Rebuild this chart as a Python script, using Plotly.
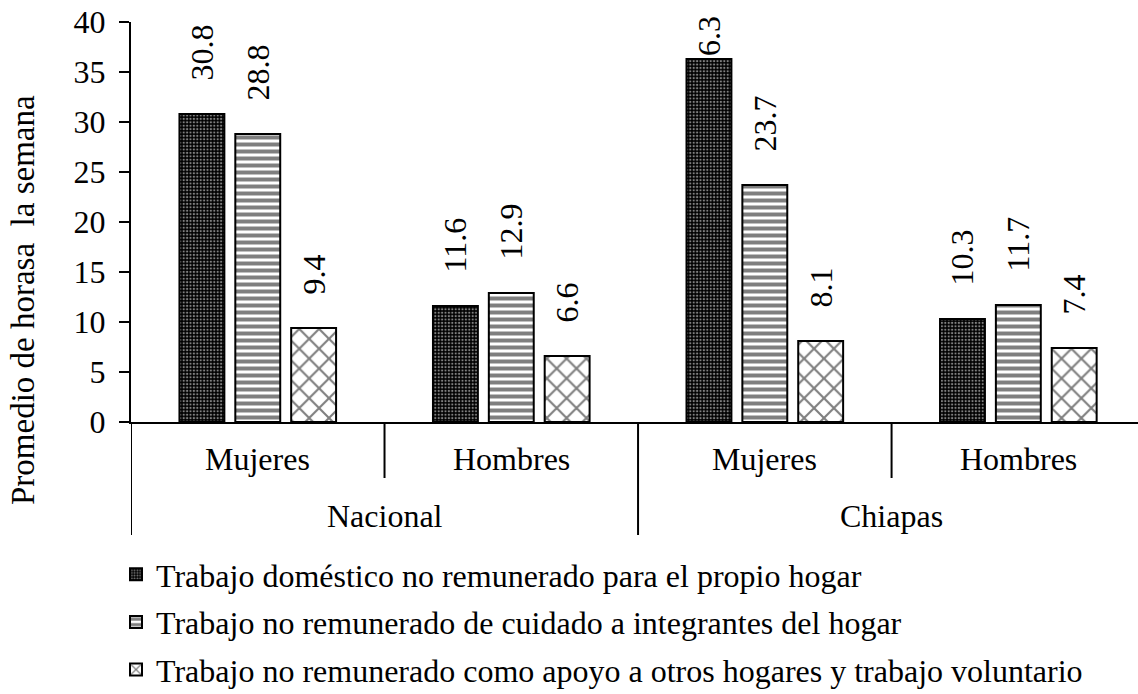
import plotly.graph_objects as go

# ---- data ----
regions = ["Nacional", "Nacional", "Chiapas", "Chiapas"]
sexes = ["Mujeres", "Hombres", "Mujeres", "Hombres"]

series_names = [
    "Trabajo doméstico no remunerado para el propio hogar",
    "Trabajo no remunerado de cuidado a integrantes del hogar",
    "Trabajo no remunerado como apoyo a otros hogares y trabajo voluntario",
]
domestico = [30.8, 11.6, 36.3, 10.3]
cuidado = [28.8, 12.9, 23.7, 11.7]
apoyo = [9.4, 6.6, 8.1, 7.4]

# labels as printed on the chart (the 36.3 label is partly hidden in the original)
domestico_labels = ["30.8", "11.6", "6.3", "10.3"]
cuidado_labels = ["28.8", "12.9", "23.7", "11.7"]
apoyo_labels = ["9.4", "6.6", "8.1", "7.4"]

y_ticks = [0, 5, 10, 15, 20, 25, 30, 35, 40]
y_title = "Promedio de horasa\u00a0 la semana"

FONT = "Liberation Serif"
FS = 32

W, H = 1138, 694
ML, MR, MT, MB = 131, 0, 22, 272
PW, PH = W - ML - MR, H - MT - MB


def py(pix):
    """pixel row -> paper y"""
    return (H - MB - pix) / PH


def px(pix):
    """pixel column -> paper x"""
    return (pix - ML) / PW


patterns = [
    dict(shape=".", fgcolor="white", bgcolor="black", size=3.4, solidity=0.35, fillmode="overlay"),
    dict(shape="-", fgcolor="black", bgcolor="white", size=7, solidity=0.57, fillmode="overlay"),
    dict(shape="x", fgcolor="black", bgcolor="white", size=14, solidity=0.28, fillmode="overlay"),
]

LABEL_PAD = "\u00a0" * 3 + "\u2009"


def pad_labels(values, labels):
    out = []
    for v, lab in zip(values, labels):
        if lab == f"{v:.1f}":
            out.append(LABEL_PAD + lab)
        else:
            out.append(lab)
    return out


fig = go.Figure()
for name, vals, labs, pat in zip(series_names,
                                  [domestico, cuidado, apoyo],
                                  [domestico_labels, cuidado_labels, apoyo_labels],
                                  patterns):
    fig.add_trace(go.Bar(
        name=name,
        legendgroup=name,
        x=[regions, sexes],
        y=vals,
        text=pad_labels(vals, labs),
        textposition="outside",
        textangle=-90,
        constraintext="none",
        cliponaxis=False,
        textfont=dict(family=FONT, size=FS, color="black"),
        marker=dict(color=pat["bgcolor"], line=dict(color="black", width=2), pattern=pat),
    ))

# category axis: inner labels, outer labels and dividers
for i, s in enumerate(sexes):
    fig.add_annotation(text=s, xref="x", yref="paper", x=i, y=py(459),
                       showarrow=False, xanchor="center", yanchor="middle",
                       font=dict(family=FONT, size=FS, color="black"))
seen = []
for r in regions:
    if r not in seen:
        seen.append(r)
for r in seen:
    idx = [i for i, rr in enumerate(regions) if rr == r]
    fig.add_annotation(text=r, xref="x", yref="paper", x=sum(idx) / len(idx), y=py(516),
                       showarrow=False, xanchor="center", yanchor="middle",
                       font=dict(family=FONT, size=FS, color="black"))
    # outer boundary (left of the group)
    fig.add_shape(type="line", xref="x", yref="paper", x0=idx[0] - 0.5, x1=idx[0] - 0.5,
                  y0=0, y1=py(535), line=dict(color="black", width=2))
    # inner boundaries within the group
    for i in idx[:-1]:
        fig.add_shape(type="line", xref="x", yref="paper", x0=i + 0.5, x1=i + 0.5,
                      y0=0, y1=py(478), line=dict(color="black", width=2))

fig.add_annotation(text=y_title, xref="paper", yref="paper",
                   x=px(23), y=py(300),
                   textangle=-90, showarrow=False,
                   font=dict(family=FONT, size=33, color="black"),
                   xanchor="center", yanchor="middle")

fig.update_layout(
    width=W, height=H,
    margin=dict(l=ML, r=MR, t=MT, b=MB, autoexpand=False),
    paper_bgcolor="white", plot_bgcolor="white",
    font=dict(family=FONT, size=FS, color="black"),
    barmode="group", bargap=0.339, bargroupgap=0.196,
    showlegend=True,
    legend=dict(orientation="v", x=px(116), xanchor="left", y=py(547), yanchor="top",
                font=dict(family=FONT, size=FS, color="black"),
                tracegroupgap=3, bgcolor="rgba(0,0,0,0)"),
)
fig.update_xaxes(
    type="multicategory", range=[-0.5, 3.472],
    showline=True, linecolor="black", linewidth=2,
    ticks="", showgrid=False, showticklabels=False,
)
fig.update_yaxes(
    range=[0, 40], tickvals=y_ticks, ticktext=[str(t) for t in y_ticks],
    showline=True, linecolor="black", linewidth=2,
    ticks="outside", ticklen=10, tickwidth=2, tickcolor="black",
    ticklabelstandoff=7,
    showgrid=False, zeroline=False,
    tickfont=dict(family=FONT, size=FS, color="black"),
)

fig.write_html("out.html",
               config={"displayModeBar": False},
               post_script="document.body.style.margin='0';document.body.style.overflow='hidden';")
